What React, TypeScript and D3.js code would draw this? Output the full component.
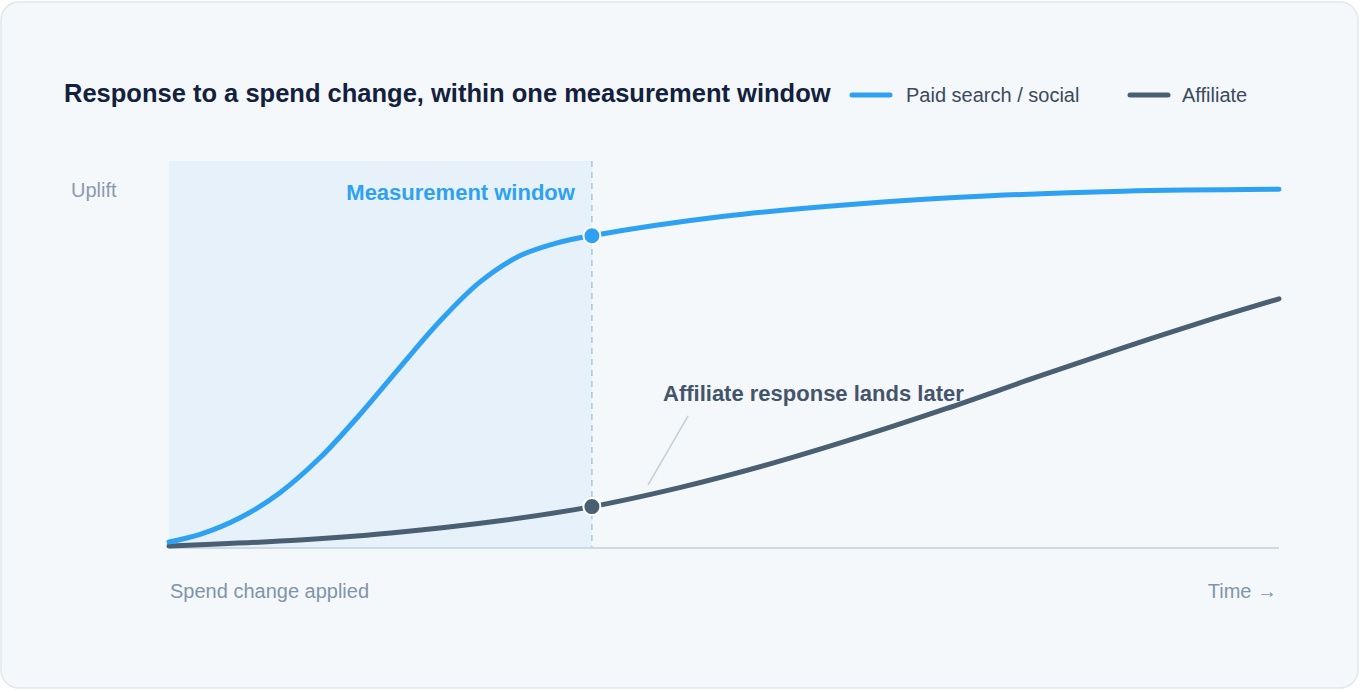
import React from "react";
import * as d3 from "d3";

const W = 1360;
const H = 692;

const title = "Response to a spend change, within one measurement window";
const seriesNames = ["Paid search / social", "Affiliate"];
const windowEnd = 38.1;

const paidT = [0, 2.8, 6.4, 10, 13.6, 17.2, 20.8, 24.4, 28, 31.6, 34.9, 38.1, 50, 62, 74, 86, 100];
const paidUplift = [1.55, 3.5, 7.8, 14.3, 23.3, 34.5, 46.7, 58.6, 68.7, 75.5, 78.8, 80.7, 85.7, 88.9, 91.0, 92.2, 92.7];

const affT = [0, 10, 20, 30, 38.1, 46, 54, 62, 70, 78, 86, 94, 100];
const affUplift = [0.5, 1.8, 3.9, 7.1, 10.7, 15.6, 21.6, 28.5, 36.0, 44.0, 51.8, 59.2, 64.4];

const annotationText = "Affiliate response lands later";
const yLabel = "Uplift";
const xStartLabel = "Spend change applied";
const xEndLabel = "Time →";
const windowLabel = "Measurement window";

const BLUE = "#2ea1f2";
const SLATE = "#4a6072";
const FONT = "'Liberation Sans', Arial, Helvetica, sans-serif";

export default function App() {
  const x = d3.scaleLinear().domain([0, 100]).range([169, 1279]);
  const y = d3.scaleLinear().domain([0, 100]).range([548, 161]);

  const line = d3
    .line<[number, number]>()
    .x((d) => x(d[0]))
    .y((d) => y(d[1]))
    .curve(d3.curveCatmullRom.alpha(0.5));

  const paid: [number, number][] = paidT.map((t, i) => [t, paidUplift[i]]);
  const aff: [number, number][] = affT.map((t, i) => [t, affUplift[i]]);

  const paidAtWin = paidUplift[paidT.indexOf(windowEnd)];
  const affAtWin = affUplift[affT.indexOf(windowEnd)];

  return (
    <svg
      width={W}
      height={H}
      style={{ position: "absolute", left: 0, top: 0, fontFamily: FONT }}
    >
      <rect x={1} y={2} width={1357} height={686} rx={18} fill="#f4f8fb" stroke="#e1e7ee" strokeWidth={1.5} />

      <text x={64} y={102} fontSize={25.5} fontWeight={700} fill="#13213c">{title}</text>

      <line x1={852} x2={890} y1={95} y2={95} stroke={BLUE} strokeWidth={5} strokeLinecap="round" />
      <text x={906} y={102} fontSize={20} fill="#3b4a5c">{seriesNames[0]}</text>
      <line x1={1130} x2={1168} y1={95} y2={95} stroke={SLATE} strokeWidth={5} strokeLinecap="round" />
      <text x={1182} y={102} fontSize={20} fill="#3b4a5c">{seriesNames[1]}</text>

      <rect x={x(0)} y={y(100)} width={x(windowEnd) - x(0)} height={y(0) - y(100)} fill="#e6f1fa" />
      <line x1={x(windowEnd)} x2={x(windowEnd)} y1={y(100)} y2={y(0)} stroke="#a6c8e2" strokeWidth={1.5} strokeDasharray="6,5" />

      <line x1={x(0)} x2={x(100)} y1={y(0)} y2={y(0)} stroke="#cfd9e3" strokeWidth={2} />

      <text x={71} y={197} fontSize={20} fill="#8a9aae">{yLabel}</text>
      <text x={x(windowEnd) - 17} y={200} fontSize={22} fontWeight={700} fill={BLUE} textAnchor="end">{windowLabel}</text>

      <path d={line(aff) || ""} fill="none" stroke={SLATE} strokeWidth={5} strokeLinecap="round" />
      <path d={line(paid) || ""} fill="none" stroke={BLUE} strokeWidth={5} strokeLinecap="round" />

      <circle cx={x(windowEnd)} cy={y(paidAtWin)} r={8.5} fill={BLUE} stroke="#fff" strokeWidth={2} />
      <circle cx={x(windowEnd)} cy={y(affAtWin)} r={8.5} fill={SLATE} stroke="#fff" strokeWidth={2} />

      <line x1={688} y1={416} x2={648} y2={485} stroke="#c8d0d8" strokeWidth={1.5} />
      <text x={663} y={401} fontSize={22} fontWeight={700} fill="#44546a">{annotationText}</text>

      <text x={170} y={598} fontSize={20} fill="#8194aa">{xStartLabel}</text>
      <text x={1277} y={598} fontSize={20} fill="#8194aa" textAnchor="end">{xEndLabel}</text>
    </svg>
  );
}
